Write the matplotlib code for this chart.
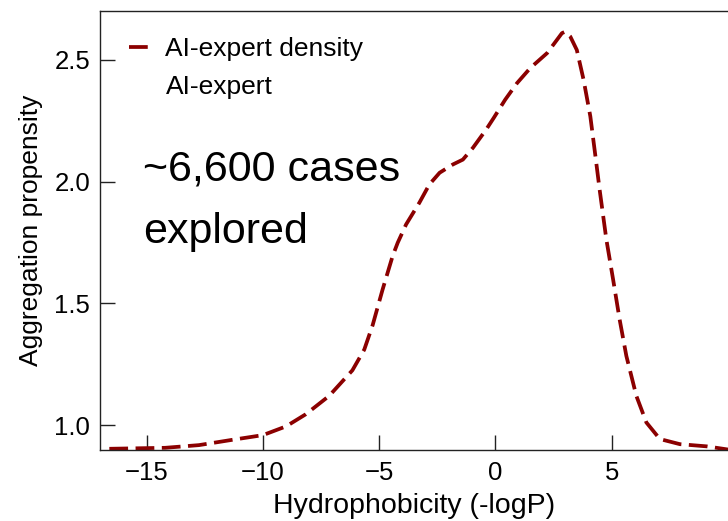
import matplotlib
matplotlib.use("Agg")
import matplotlib.pyplot as plt
from matplotlib.lines import Line2D

plt.rcParams['font.family'] = ['Liberation Sans', 'DejaVu Sans']

# hydrophobicity (-logP) vs aggregation propensity, AI-expert density curve
logp = [-16.6, -14.2, -12.75, -11.3, -10.0, -9.0, -8.15, -7.15, -6.15, -5.64,
        -5.28, -4.85, -4.42, -4.2, -3.84, -3.27, -2.84, -2.4, -1.83, -1.4,
        -0.97, -0.4, -0.08, 0.42, 0.93, 1.5, 2.22, 2.86, 3.0, 3.22,
        3.5, 3.79, 4.08, 4.3, 4.48, 4.77, 5.06, 5.34, 5.63, 6.06,
        6.49, 7.07, 7.93, 9.08, 10.0, 10.5]
propensity = [0.903, 0.907, 0.918, 0.940, 0.959, 0.995, 1.045, 1.12, 1.225, 1.31,
              1.41, 1.557, 1.694, 1.749, 1.824, 1.913, 1.988, 2.036, 2.07, 2.09,
              2.138, 2.213, 2.26, 2.336, 2.404, 2.466, 2.527, 2.609, 2.615, 2.595,
              2.54, 2.418, 2.268, 2.104, 1.967, 1.762, 1.598, 1.434, 1.284, 1.12,
              1.011, 0.943, 0.922, 0.913, 0.90, 0.898]

xticks = [-15, -10, -5, 0, 5]
yticks = [1.0, 1.5, 2.0, 2.5]

fig = plt.figure(figsize=(7.28, 5.21), dpi=100)
ax = fig.add_axes([0.1374, 0.1372, 0.8626, 0.8417])

line, = ax.plot(logp, propensity, color='#8b0000', lw=2.7,
                linestyle=(0, (5.0, 2.0)))

ax.set_xlim(-17, 10)
ax.set_ylim(0.9, 2.7)
ax.set_xticks(xticks)
ax.set_yticks(yticks)
ax.tick_params(direction='in', length=10.5, width=1.0, labelsize=18.5,
               color='#222222')
ax.tick_params(axis='x', pad=8)
ax.tick_params(axis='y', pad=7)
for side in ['left', 'bottom', 'top']:
    ax.spines[side].set_linewidth(1.0)
    ax.spines[side].set_color('#222222')
ax.spines['right'].set_visible(False)

ax.set_xlabel('Hydrophobicity (-logP)', fontsize=20.5, labelpad=6)
ax.set_ylabel('Aggregation propensity', fontsize=19, labelpad=8)

blank = Line2D([], [], color='none')
ax.legend([line, blank], ['AI-expert density', 'AI-expert'],
          loc='upper left', bbox_to_anchor=(0.016, 0.982), frameon=False,
          fontsize=19, handlelength=0.8, handletextpad=0.6,
          labelspacing=0.5, borderaxespad=0.3)

ax.text(0.068, 0.471, '~6,600 cases\nexplored', transform=ax.transAxes,
        fontsize=31, va='baseline', ha='left', linespacing=1.73)

fig.savefig('out.png', dpi=100)
